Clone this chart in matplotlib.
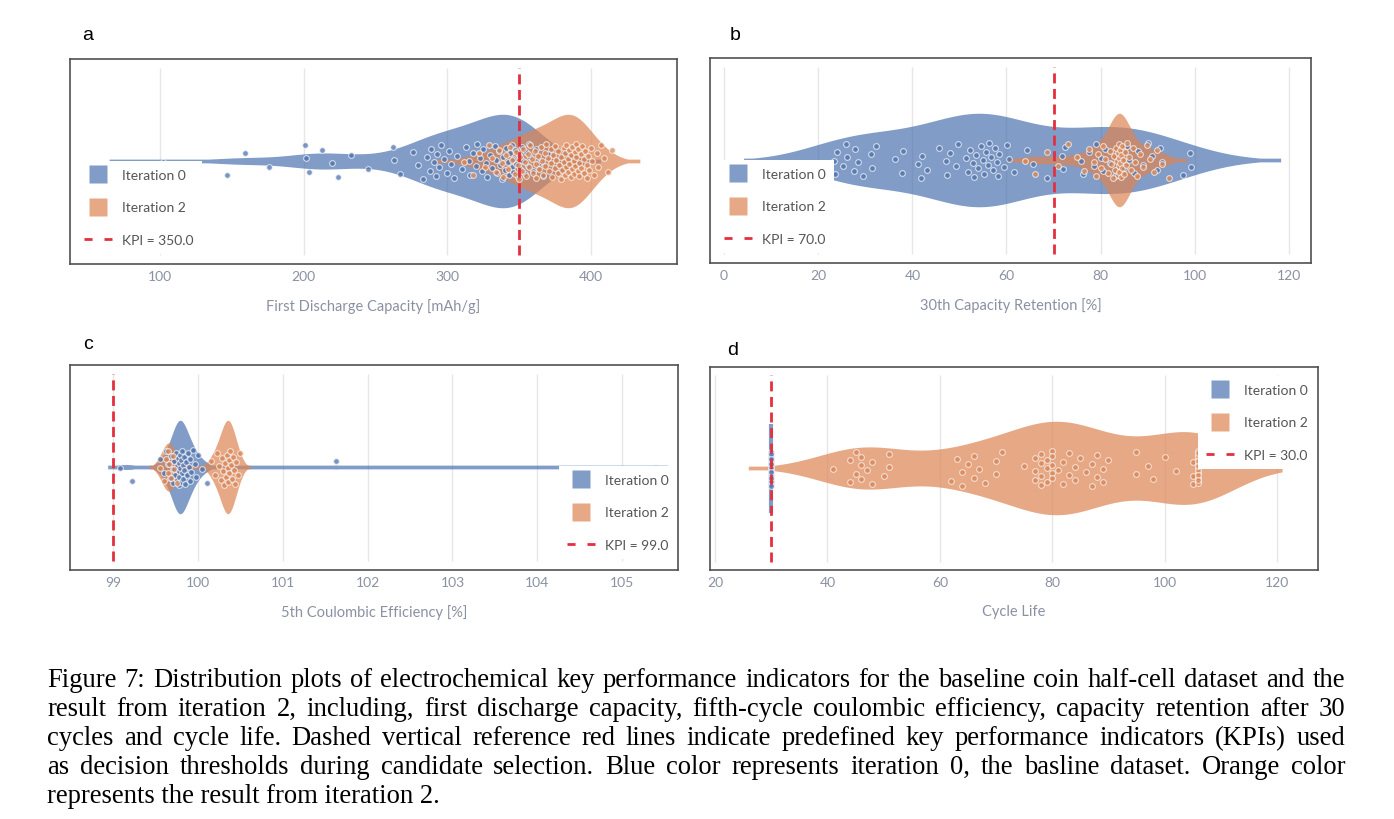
import numpy as np
import matplotlib
matplotlib.use("Agg")
import matplotlib.pyplot as plt
from matplotlib.lines import Line2D

plt.rcParams['font.family'] = ['Lato', 'DejaVu Sans']

# ---- data ----
cap_it0 = [102, 147, 159, 176, 201, 202, 204, 213, 220, 224, 233, 245, 262, 263, 267,
           276, 280, 283, 286, 288, 289, 291, 292, 293, 294, 296, 298, 300, 301, 303,
           305, 307, 310, 313, 315, 316, 318, 320, 321, 323, 324, 325, 327, 328, 330,
           331, 333, 334, 335, 336, 337, 338, 339, 340, 341, 342, 343, 344, 345, 345,
           346, 346, 347, 348, 349, 350, 351, 352, 353, 354, 355, 356, 357, 358, 360,
           362, 364, 367, 370]
cap_it2 = [312, 318, 322, 326, 329, 331, 334, 336, 338, 339, 341, 342, 344, 345, 347,
           348, 349, 350, 351, 352, 353, 354, 355, 356, 357, 358, 359, 360, 361, 362,
           362, 363, 364, 365, 366, 367, 368, 368, 369, 370, 371, 372, 372, 373, 374,
           375, 375, 376, 377, 377, 378, 379, 379, 380, 381, 381, 382, 382, 383, 383,
           384, 384, 385, 385, 386, 386, 387, 387, 388, 388, 389, 389, 390, 390, 391,
           391, 392, 392, 393, 393, 394, 395, 395, 396, 397, 397, 398, 399, 400, 401,
           402, 404, 405, 407, 409, 412, 415]

ret_it0 = [23.3, 23.5, 24.0, 25.3, 26.0, 26.2, 27.5, 27.9, 28.5, 29.6, 31.2, 31.5, 32.2,
           36.3, 37.8, 38.0, 41.2, 41.8, 42.0, 43.2, 45.7, 47.1, 47.3, 48.0, 49.2, 49.7,
           51.4, 51.8, 52.3, 52.8, 53.2, 53.5, 54.0, 54.5, 55.0, 55.3, 55.6, 56.0, 56.3,
           56.8, 57.2, 57.5, 58.0, 58.3, 58.5, 59.4, 60.2, 60.6, 61.5, 64.4, 65.7, 68.7,
           71.8, 72.0, 72.5, 75.8, 76.3, 77.5, 78.5, 79.0, 80.0, 80.5, 81.0, 82.0, 83.0,
           84.0, 85.0, 85.5, 86.0, 87.0, 88.0, 89.0, 90.0, 91.0, 92.0, 92.7, 93.1, 97.4,
           99.0, 99.3]
ret_it2 = [64.0, 66.0, 68.5, 71.0, 73.0, 75.0, 76.5, 77.5, 78.5, 79.0, 79.5, 80.0, 80.5,
           81.0, 81.5, 82.0, 82.3, 82.6, 82.9, 83.1, 83.3, 83.5, 83.6, 83.7, 83.8, 83.9,
           84.0, 84.0, 84.1, 84.2, 84.3, 84.4, 84.5, 84.6, 84.8, 85.0, 85.2, 85.4, 85.7,
           86.0, 86.4, 86.8, 87.3, 87.8, 88.4, 89.0, 89.8, 90.5, 91.3, 92.0, 93.0, 94.5]

ce_it0 = [99.08, 99.22, 99.55, 99.60, 99.62, 99.65, 99.67, 99.68, 99.70, 99.71, 99.72,
          99.73, 99.74, 99.75, 99.75, 99.76, 99.77, 99.77, 99.78, 99.78, 99.79, 99.79,
          99.80, 99.80, 99.81, 99.81, 99.82, 99.82, 99.83, 99.84, 99.85, 99.86, 99.87,
          99.88, 99.89, 99.90, 99.91, 99.92, 99.94, 99.96, 99.98, 100.00, 100.05, 100.10,
          101.63, 105.40]
ce_it2 = [99.55, 99.60, 99.62, 99.64, 99.65, 99.66, 99.68, 99.70, 99.72, 99.75,
          100.15, 100.20, 100.22, 100.25, 100.27, 100.28, 100.30, 100.31, 100.32, 100.33,
          100.34, 100.35, 100.35, 100.36, 100.37, 100.38, 100.39, 100.40, 100.41, 100.42,
          100.43, 100.45, 100.47, 100.50]

life_it0 = [30, 30, 30, 30, 30, 30, 30, 30, 30, 30, 30, 30, 30, 30, 30, 30, 30, 30, 30, 30]
life_it2 = [41, 44, 44, 45, 45, 46, 46, 46, 47, 48, 48, 50, 51, 51, 62, 63, 64, 64, 65,
            66, 66, 67, 68, 70, 70, 71, 75, 77, 77, 77, 78, 78, 78, 78, 79, 79, 79, 80,
            80, 80, 80, 80, 81, 82, 82, 83, 83, 84, 84, 85, 86, 87, 87, 88, 88, 89, 89,
            90, 95, 95, 97, 98, 100, 102, 105, 105, 105, 106, 106, 106, 106, 106, 106,
            106, 106, 106, 106, 106, 106, 106, 106, 106, 106]

kpis = [350.0, 70.0, 99.0, 30.0]
xlabels = ["First Discharge Capacity [mAh/g]", "30th Capacity Retention [%]",
           "5th Coulombic Efficiency [%]", "Cycle Life"]
xticks = [[100, 200, 300, 400], [0, 20, 40, 60, 80, 100, 120],
          [99, 100, 101, 102, 103, 104, 105], [20, 40, 60, 80, 100, 120]]
panel_letters = ["a", "b", "c", "d"]

BLUE = "#4c72b0"
ORANGE = "#dd8452"
RED = "#e3303f"
TICKC = "#8a91a2"

W, H = 1394, 820
fig = plt.figure(figsize=(W / 100, H / 100), dpi=100)


def px_axes(l, r, t, b):
    return fig.add_axes([l / W, 1 - b / H, (r - l) / W, (b - t) / H])


def silverman(v):
    v = np.asarray(v, float)
    iqr = np.subtract(*np.percentile(v, [75, 25]))
    s = min(v.std(ddof=1), iqr / 1.349)
    return 1.059 * s * len(v) ** -0.2


def violin(ax, vals, color, bw=None, half=0.5, floor=0.02):
    v = np.asarray(vals, float)
    if v.std() == 0:
        ax.plot([v[0], v[0]], [-half * 0.95, half * 0.95], color=color, alpha=0.7,
                lw=3, solid_capstyle="butt", zorder=2)
        return
    if bw is None:
        bw = silverman(v)
    grid = np.linspace(v.min() - 2 * bw, v.max() + 2 * bw, 800)
    d = np.exp(-0.5 * ((grid[:, None] - v[None, :]) / bw) ** 2).sum(1)
    d = np.maximum(d / d.max() * half, floor)
    ax.fill_between(grid, -d, d, facecolor=color, alpha=0.7, lw=0, zorder=2)


def points(ax, vals, color, amp=0.19):
    v = np.asarray(vals, float)
    k = np.arange(len(v))
    off = ((k * 0.6180339887 + 0.5) % 1.0 - 0.5) * 2 * amp
    ax.scatter(v, off, s=17, facecolor=color, alpha=0.75, edgecolor="#f4f4f4",
               linewidth=0.8, zorder=3)


boxes = [(70, 677, 60, 265), (710, 1311, 59, 264), (70, 678, 366, 571), (710, 1318, 368, 571)]
xlims = [(37.4, 460), (-3.0, 124.7), (98.49, 105.66), (19.1, 127.3)]
series = [(cap_it0, cap_it2), (ret_it0, ret_it2), (ce_it0, ce_it2), (life_it0, life_it2)]
bws = [(None, None), (None, 1.9), (0.07, 0.06), (None, 7.5)]
leg_loc = [("upper left", (76, 162)), ("upper left", (716, 161)),
           ("upper right", (677, 467)), ("upper right", (1316, 377))]
letter_pos = [(88, 35), (735, 35), (88, 345), (733, 351)]

for i in range(4):
    l, r, t, b = boxes[i]
    ax = px_axes(l, r, t, b)
    half_h = (b - t) / 187.0
    ax.set_ylim(-half_h, half_h)
    ax.set_xlim(*xlims[i])
    ax.set_yticks([])
    ax.set_xticks(xticks[i])
    ax.tick_params(axis="x", length=0, pad=4, labelsize=10, labelcolor=TICKC)
    for s in ax.spines.values():
        s.set_color("#505050")
        s.set_linewidth(1.2)
    ax.vlines(xticks[i], -1, 1, color="#e6e6e6", lw=1, zorder=0)
    ax.set_xlabel(xlabels[i], fontsize=10.5, color=TICKC, labelpad=12)

    it0, it2 = series[i]
    violin(ax, it0, BLUE, bws[i][0])
    violin(ax, it2, ORANGE, bws[i][1])
    points(ax, it0, BLUE)
    points(ax, it2, ORANGE)
    ax.plot([kpis[i], kpis[i]], [-1, 1], color=RED, lw=2, dashes=(3.6, 2.0), zorder=4)

    handles = [
        Line2D([], [], ls="none", marker="s", markersize=12.5, markerfacecolor=BLUE,
               markeredgecolor="none", alpha=0.7),
        Line2D([], [], ls="none", marker="s", markersize=12.5, markerfacecolor=ORANGE,
               markeredgecolor="none", alpha=0.7),
        Line2D([], [], color=RED, lw=2, dashes=(2.9, 4.3)),
    ]
    labels = ["Iteration 0", "Iteration 2", "KPI = %.1f" % kpis[i]]
    loc, (lx, ly) = leg_loc[i]
    leg = ax.legend(handles, labels, loc=loc,
                    bbox_to_anchor=((lx - l) / (r - l), (b - ly) / (b - t)),
                    borderaxespad=0, borderpad=0.6, frameon=True, fancybox=False,
                    facecolor="white", edgecolor="none", framealpha=1, fontsize=10,
                    handlelength=2.0, handletextpad=0.7, labelspacing=1.45,
                    labelcolor="#555555")
    leg.set_zorder(10)

    fx, fy = letter_pos[i]
    fig.text(fx / W, 1 - fy / H, panel_letters[i], fontsize=14, ha="center", va="center",
             family=["Liberation Sans", "DejaVu Sans"])

# ---- caption, justified ----
caption = [
    "Figure 7: Distribution plots of electrochemical key performance indicators for the baseline coin half-cell dataset and the",
    "result from iteration 2, including, first discharge capacity, fifth-cycle coulombic efficiency, capacity retention after 30",
    "cycles and cycle life. Dashed vertical reference red lines indicate predefined key performance indicators (KPIs) used",
    "as decision thresholds during candidate selection. Blue color represents iteration 0, the basline dataset. Orange color",
    "represents the result from iteration 2.",
]
x0, x1 = 47, 1345
baselines = [687, 716, 745, 774, 803]
rend = fig.canvas.get_renderer()
cap_kw = dict(fontsize=19.2, family=["Liberation Serif", "DejaVu Serif"], va="baseline",
              ha="left", color="black")
for j, line in enumerate(caption):
    y = 1 - baselines[j] / H
    if j == len(caption) - 1:
        fig.text(x0 / W, y, line, **cap_kw)
        continue
    words = line.split(" ")
    texts = [fig.text(0, y, w_, **cap_kw) for w_ in words]
    widths = [t_.get_window_extent(rend).width for t_ in texts]
    gap = (x1 - x0 - sum(widths)) / (len(words) - 1)
    xx = x0
    for t_, w_ in zip(texts, widths):
        t_.set_x(xx / W)
        xx += w_ + gap

fig.savefig("out.png", dpi=100)
